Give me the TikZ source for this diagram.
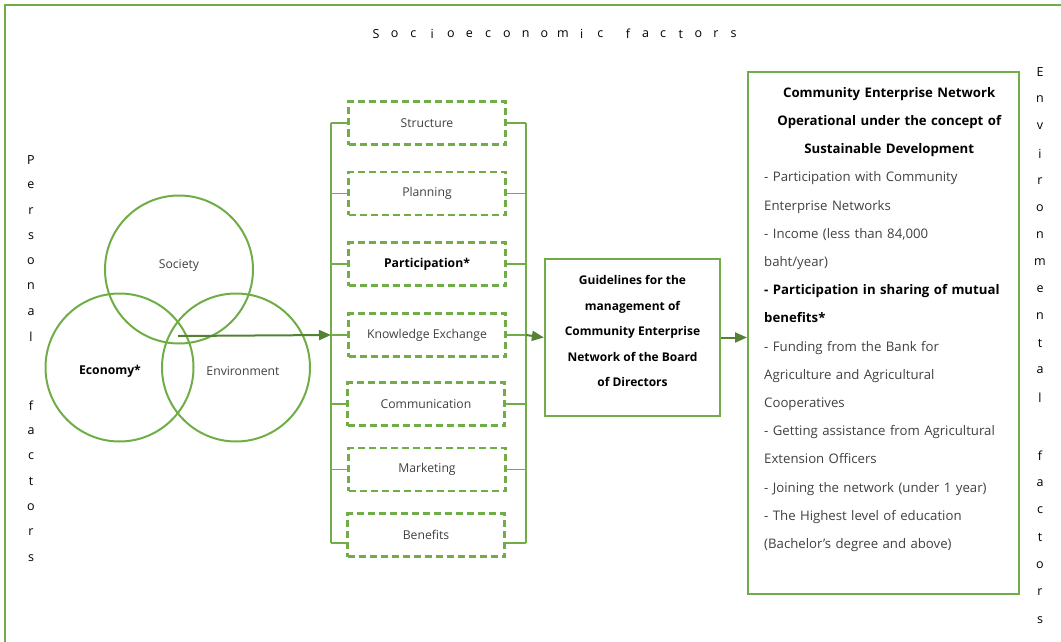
\documentclass[tikz,border=0pt]{standalone}
\usepackage{fontspec}
\setmainfont{Open Sans}
\usetikzlibrary{arrows.meta,positioning,calc}
\definecolor{leaf}{HTML}{70AD47}
\definecolor{moss}{HTML}{548235}
\definecolor{ink}{HTML}{404040}

\tikzset{
  frame/.style={draw=leaf, line width=2pt},
  venn/.style={circle, draw=leaf, line width=2pt, minimum size=148pt, inner sep=0pt},
  vennlbl/.style={text=ink, font=\fontsize{12.2}{14}\selectfont},
  factorbox/.style={draw=leaf, line width=2.2pt, dash pattern=on 7pt off 4pt,
    minimum width=157pt, minimum height=43pt, text=ink, font=\fontsize{12.2}{14}\selectfont},
  bracket/.style={draw=leaf, line width=1.8pt},
  flow/.style={draw=moss, line width=2pt, -{Triangle[length=12pt,width=10pt]}},
  solidbox/.style={draw=leaf, line width=2.2pt},
  letter/.style={text=black, font=\fontsize{12.5}{14}\selectfont, inner sep=0pt}
}

\begin{document}
\begin{tikzpicture}[x=1pt, y=-1pt]
  \useasboundingbox (0,0) rectangle (1061,642);
  % outer frame, cut by the page edge
  \draw[frame] (5,642) -- (5,5) -- (1061,5);

  % spaced titles
  \foreach \c [count=\i] in {S,o,c,i,o,e,c,o,n,o,m,i,c}
    \node[letter] (socA\i) at (376+18.7*\i-18.7,34) {\c};
  \foreach \c [count=\i] in {f,a,c,t,o,r,s}
    \node[letter] (socB\i) at (628+17.6*\i-17.6,34) {\c};
  \foreach \c [count=\i] in {P,e,r,s,o,n,a,l}
    \node[letter] (persA\i) at (31,160+25.3*\i-25.3) {\c};
  \foreach \c [count=\i] in {f,a,c,t,o,r,s}
    \node[letter] (persB\i) at (31,406+25.3*\i-25.3) {\c};
  \foreach \c [count=\i] in {E,n,v,i,r,o,n,m,e,n,t,a,l}
    \node[letter] (envA\i) at (1040,72+27.15*\i-27.15) {\c};
  \foreach \c [count=\i] in {f,a,c,t,o,r,s}
    \node[letter] (envB\i) at (1040,456+27.3*\i-27.3) {\c};

  % three pillars
  \node[venn] (society) at (179,269.5) {};
  \node[venn] (economy) at (119.5,367.5) {};
  \node[venn] (environment) at (236,367.5) {};
  \node[vennlbl] (societylbl) at (179,265) {Society};
  \node[vennlbl, text=black, font=\fontsize{12.2}{14}\selectfont\bfseries] (economylbl) at (110,371) {Economy*};
  \node[vennlbl] (environmentlbl) at (243,371) {Environment};
  \coordinate (core) at (178,336);

  % factor boxes
  \node[factorbox] (structure) at (427,123) {Structure};
  \node[factorbox] (planning) at (427,193.5) {Planning};
  \node[factorbox, text=black, font=\fontsize{12.2}{14}\selectfont\bfseries] (participation) at (427,264) {Participation*};
  \node[factorbox] (knowledge) at (427,335) {Knowledge Exchange};
  \node[factorbox] (communication) at (426,404) {Communication};
  \node[factorbox] (marketing) at (427,469.5) {Marketing};
  \node[factorbox] (benefits) at (426,535) {Benefits};

  % brackets
  \coordinate (lefttop) at (331,123);
  \coordinate (leftbot) at (331,543);
  \coordinate (righttop) at (526,123);
  \coordinate (rightbot) at (526,543);
  \draw[bracket] (lefttop) -- (leftbot);
  \draw[bracket] (righttop) -- (rightbot);
  \foreach \b in {structure,planning,participation,knowledge,communication,marketing}{
    \draw[bracket] (\b.west) -- (\b.west -| lefttop);
    \draw[bracket] (\b.east) -- (\b.east -| righttop);
  }
  \draw[bracket] ([yshift=-8pt]benefits.west) -- (leftbot);
  \draw[bracket] ([yshift=-8pt]benefits.east) -- (rightbot);

  % guideline box
  \node[solidbox, minimum width=175pt, minimum height=157pt] (guide) at (632.5,337.5) {};
  \node[align=center, inner sep=0pt, font=\fontsize{12}{25.5}\selectfont\bfseries] (guidetext) at (632.5,331)
    {Guidelines for the\\ management of\\ Community Enterprise\\ Network of the Board\\ of Directors};

  % result box
  \node[solidbox, minimum width=271pt, minimum height=522pt, anchor=north west] (result) at (747,71) {};
  \node[anchor=north west, text width=250pt, inner sep=0pt, text=ink,
        font=\fontsize{13.2}{28.2}\selectfont] (resulttext) at (764,87)
    {{\centering\bfseries\color{black} Community Enterprise Network\\
      Operational under the concept of\\
      Sustainable Development\par}
     \raggedright
     - Participation with Community\\
     Enterprise Networks\\
     - Income (less than 84,000\\
     baht/year)\\
     {\bfseries\color{black} - Participation in sharing of mutual\\
     benefits*}\\
     - Funding from the Bank for\\
     Agriculture and Agricultural\\
     Cooperatives\\
     - Getting assistance from Agricultural\\
     Extension Officers\\
     - Joining the network (under 1 year)\\
     - The Highest level of education\\
     (Bachelor's degree and above)\par};

  % flow arrows
  \draw[flow] (core) -- (knowledge.west -| lefttop);
  \draw[flow] (knowledge.east -| righttop) -- (guide.west);
  \draw[flow] (guide.east) -- (guide.east -| result.west);
\end{tikzpicture}
\end{document}
